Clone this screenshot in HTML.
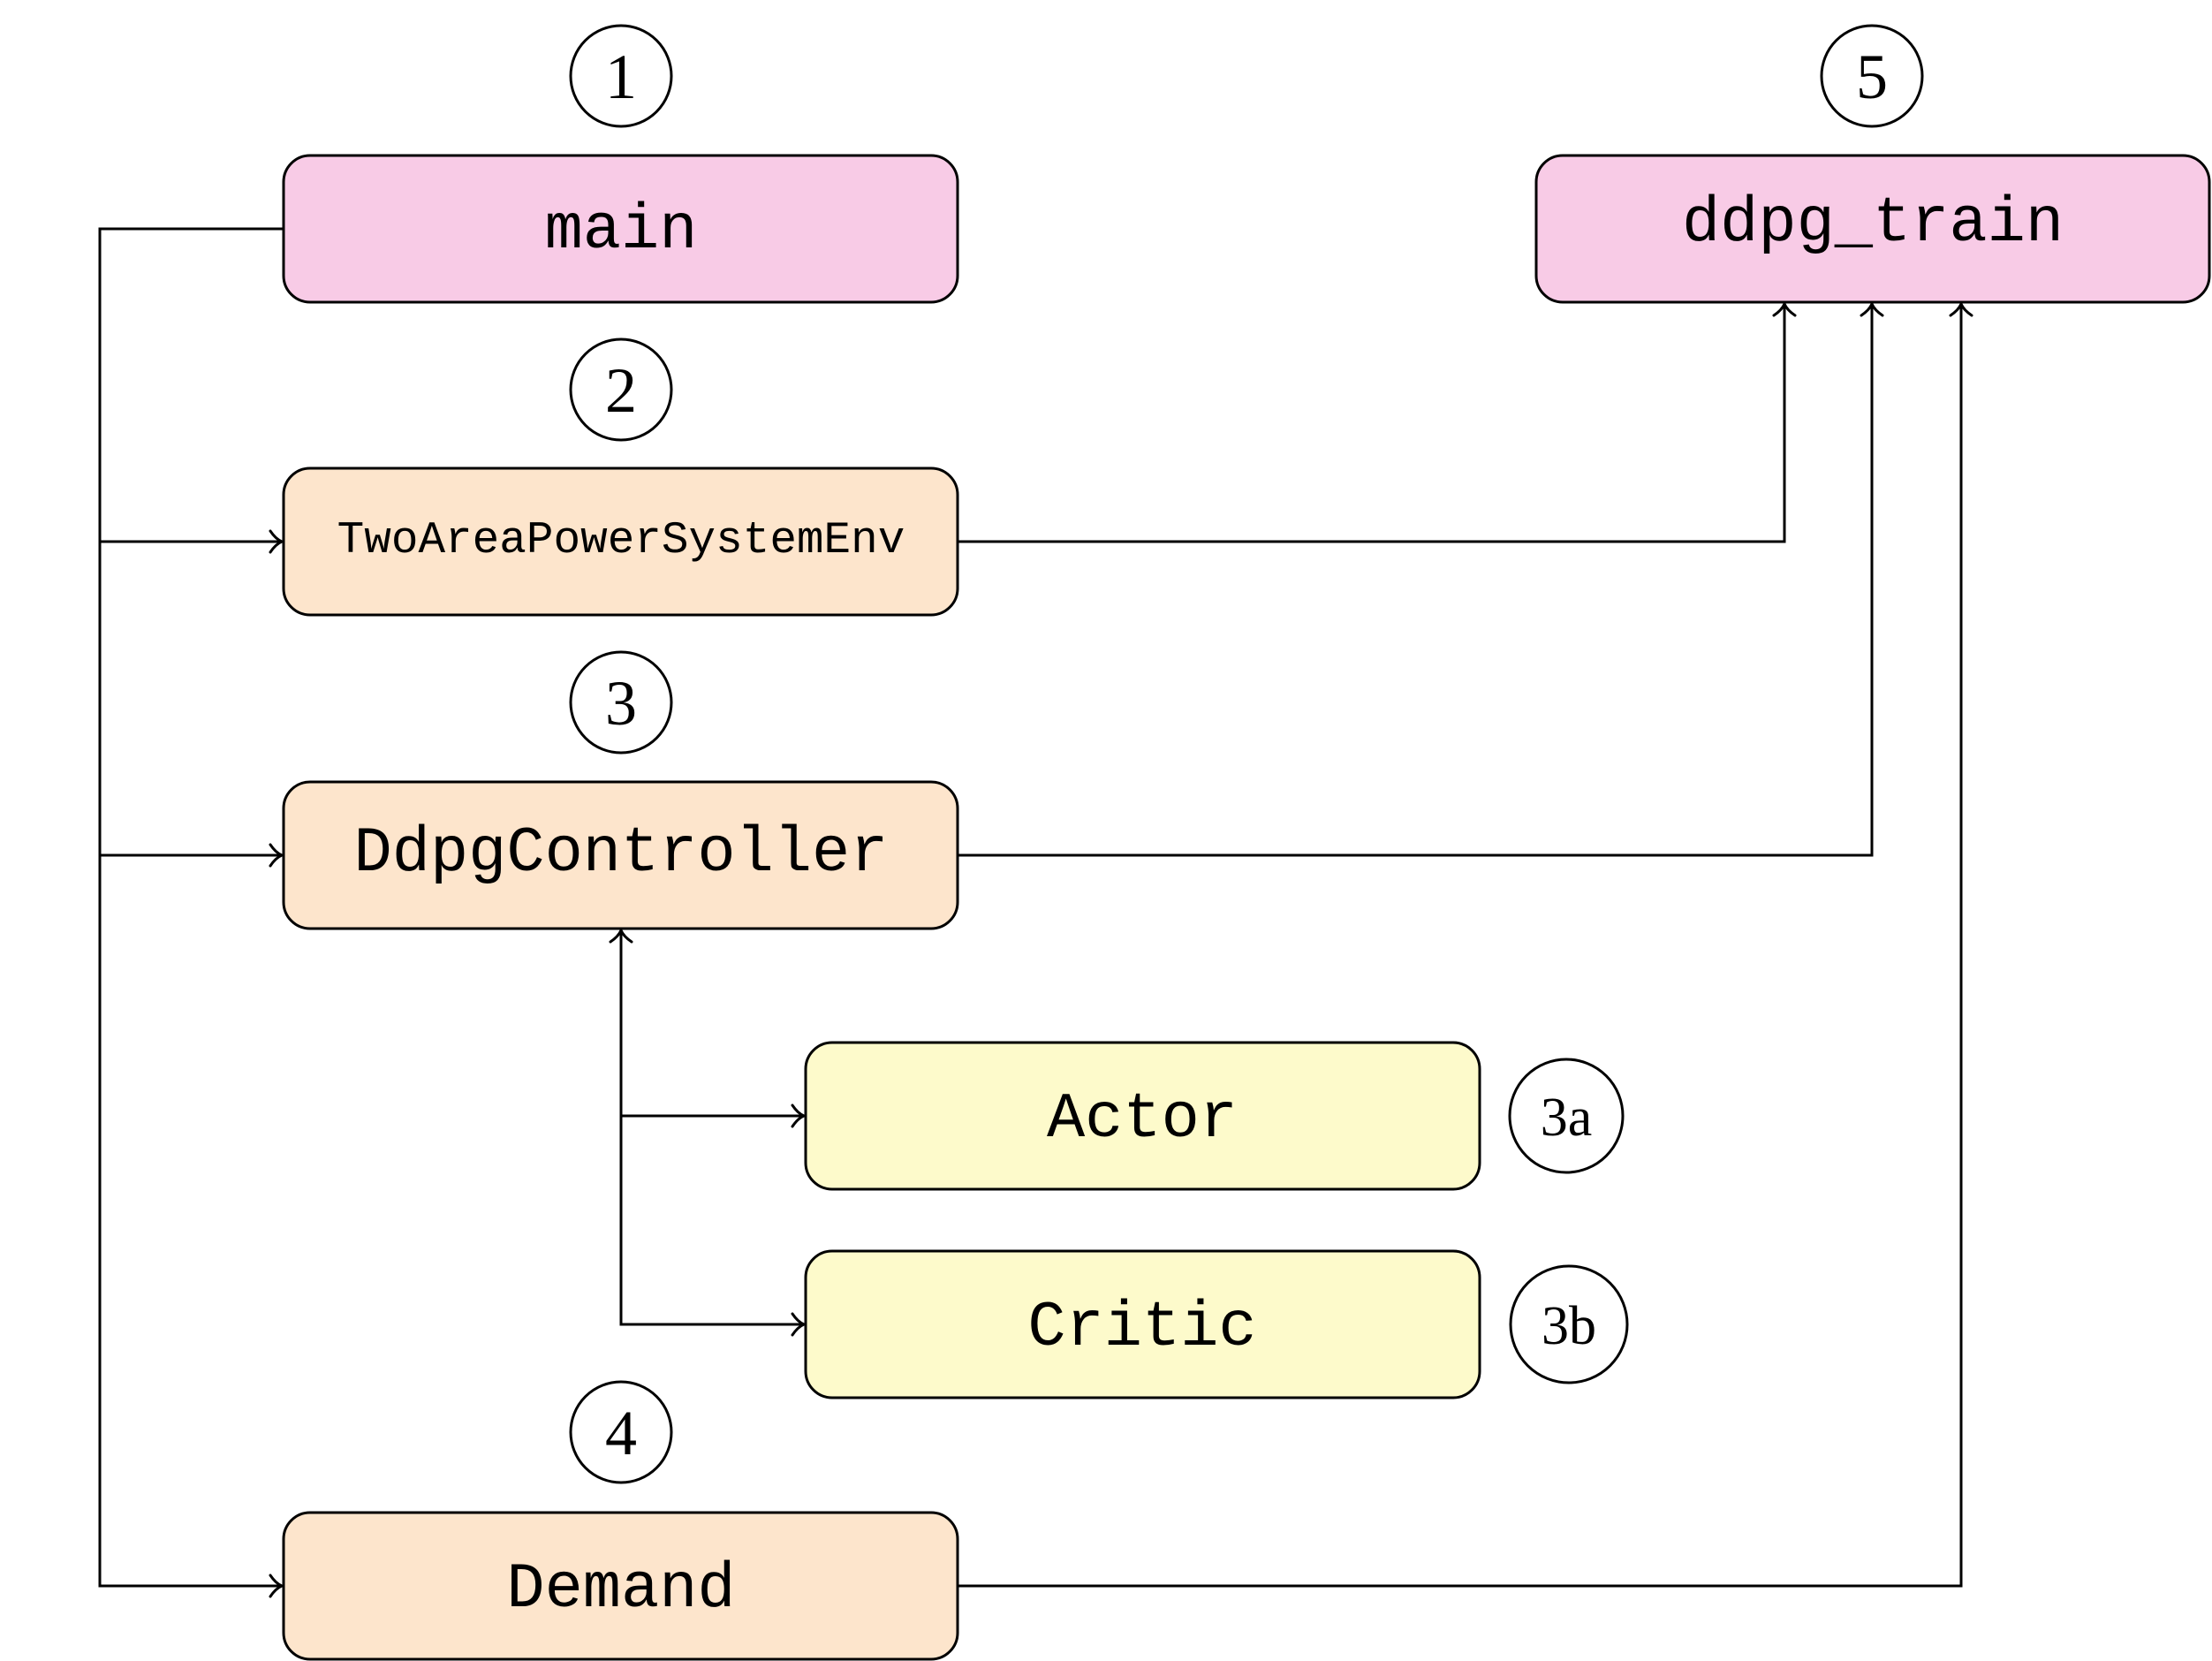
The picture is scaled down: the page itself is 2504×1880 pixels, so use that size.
<!DOCTYPE html>
<html><head><meta charset="utf-8"><style>html,body{margin:0;padding:0;background:#fff}svg{display:block}</style></head>
<body>
<svg width="2504" height="1880" viewBox="0 0 2504 1880" xmlns="http://www.w3.org/2000/svg">
<g stroke="#000" stroke-width="3" fill="none">
  <polyline points="321,259 113,259 113,1795 318,1795"/>
  <line x1="113" y1="613" x2="318" y2="613"/>
  <line x1="113" y1="968" x2="318" y2="968"/>
  <polyline points="1084,613 2020,613 2020,345"/>
  <polyline points="1084,968 2119,968 2119,345"/>
  <polyline points="1084,1795 2220,1795 2220,345"/>
  <polyline points="703,1054 703,1499 909,1499"/>
  <line x1="703" y1="1263" x2="909" y2="1263"/>
  <g stroke-width="3" stroke-linecap="round" stroke-linejoin="round">
    <path d="M306,601 Q312,610 319,613 Q312,616 306,625"/>
    <path d="M306,956 Q312,965 319,968 Q312,971 306,980"/>
    <path d="M306,1783 Q312,1792 319,1795 Q312,1798 306,1807"/>
    <path d="M897,1251 Q903,1260 910,1263 Q903,1266 897,1275"/>
    <path d="M897,1487 Q903,1496 910,1499 Q903,1502 897,1511"/>
    <path d="M691,1066 Q700,1060 703,1053 Q706,1060 715,1066"/>
    <path d="M2008,357 Q2017,351 2020,344 Q2023,351 2032,357"/>
    <path d="M2107,357 Q2116,351 2119,344 Q2122,351 2131,357"/>
    <path d="M2208,357 Q2217,351 2220,344 Q2223,351 2232,357"/>
  </g>
</g>
<g stroke="#000" stroke-width="3">
  <rect x="321" y="176" width="763" height="166" rx="30" fill="#f8cbe6"/>
  <rect x="1739" y="176" width="762" height="166" rx="30" fill="#f8cbe6"/>
  <rect x="321" y="530" width="763" height="166" rx="30" fill="#fde5cc"/>
  <rect x="321" y="885" width="763" height="166" rx="30" fill="#fde5cc"/>
  <rect x="912" y="1180" width="763" height="166" rx="30" fill="#fdfacb"/>
  <rect x="912" y="1416" width="763" height="166" rx="30" fill="#fdfacb"/>
  <rect x="321" y="1712" width="763" height="166" rx="30" fill="#fde5cc"/>
</g>
<g stroke="#000" stroke-width="3" fill="#fff">
  <circle cx="703" cy="86" r="57"/>
  <circle cx="703" cy="441" r="57"/>
  <circle cx="703" cy="795" r="57"/>
  <circle cx="703" cy="1621" r="57"/>
  <circle cx="2119" cy="86" r="57"/>
  <circle cx="1773" cy="1263" r="64"/>
  <circle cx="1776" cy="1499" r="66"/>
</g>
<g font-family="'Liberation Mono', monospace" font-size="72" text-anchor="middle" fill="#000">
  <text x="703" y="280">main</text>
  <text x="2120" y="272">ddpg_train</text>
  <text x="703" y="625" font-size="51">TwoAreaPowerSystemEnv</text>
  <text x="703" y="985">DdpgController</text>
  <text x="1293" y="1286">Actor</text>
  <text x="1293" y="1522">Critic</text>
  <text x="703" y="1818">Demand</text>
</g>
<g font-family="'Liberation Serif', serif" font-size="72" text-anchor="middle" fill="#000">
  <text x="703" y="111">1</text>
  <text x="703" y="466">2</text>
  <text x="703" y="820">3</text>
  <text x="703" y="1646">4</text>
  <text x="2119" y="111">5</text>
  <text x="1773" y="1285" font-size="62">3a</text>
  <text x="1776" y="1521" font-size="62">3b</text>
</g>
</svg>
</body></html>
